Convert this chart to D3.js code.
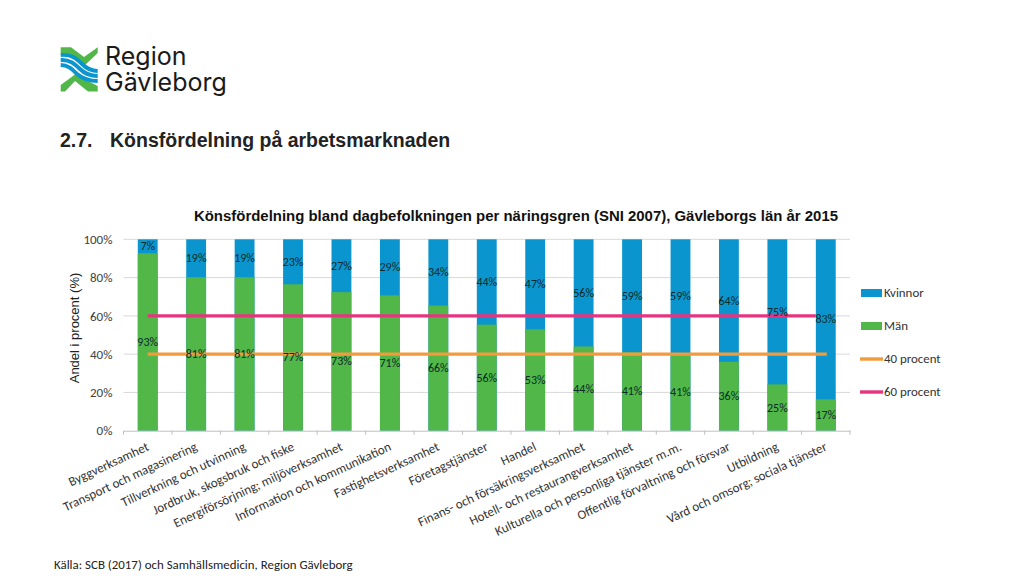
<!DOCTYPE html>
<html><head><meta charset="utf-8">
<script src="https://cdn.jsdelivr.net/npm/d3@7"></script>
<style>html,body{margin:0;background:#fff}svg{display:block}</style></head>
<body><svg id="c" width="1023" height="576"></svg>
<script>
const categories=["Byggverksamhet","Transport och magasinering","Tillverkning och utvinning","Jordbruk, skogsbruk och fiske","Energiförsörjning; miljöverksamhet","Information och kommunikation","Fastighetsverksamhet","Företagstjänster","Handel","Finans- och försäkringsverksamhet","Hotell- och restaurangverksamhet","Kulturella och personliga tjänster m.m.","Offentlig förvaltning och försvar","Utbildning","Vård och omsorg; sociala tjänster"];
const manBars=[92.7,80.2,80.2,76.5,72.4,70.7,65.4,55.4,53,44,41,40.5,36,24.2,16.4];
const manLabels=[93,81,81,77,73,71,66,56,53,44,41,41,36,25,17];
const kvinnorLabels=[7,19,19,23,27,29,34,44,47,56,59,59,64,75,83];
const yTicks=[0,20,40,60,80,100];
const line40=[40,40];
const line60=[60,60];
const legendItems=["Kvinnor","Män","40 procent","60 procent"];
const colors={k:"#0A95CE",m:"#50B748",o:"#F39A3C",p:"#E8337F"};
const svg=d3.select("#c");
const x=d3.scaleBand().domain(categories).range([123.5,850]).paddingInner(0.59).paddingOuter(0.295);
const y=d3.scaleLinear().domain([0,100]).range([430.7,239.3]);
const sans="Carlito,Lato,'Open Sans','Noto Sans',sans-serif", arial="'Liberation Sans',Arial,sans-serif";

// logo
const lg=svg.append("g");
const gr="#50B748",bl="#0A95CE";
["M60.7 47.3 L71 47.3 L84 57 L97.7 47.3 L97.7 53 L84 66 L72 58 L60.7 53 Z","M60.7 85 L75 74.5 L97.7 86 L97.7 91.5 L88 91.5 L75 81 L65 91.5 L60.7 91.5 Z"].forEach(d=>lg.append("path").attr("d",d).attr("fill",gr));
["M60.7 55 C72 54 77 59 82 64 C87 69 91 71 97.7 71","M60.7 60 C70 59.5 75 64 80 69 C85 74 91 76 97.7 76","M60.7 65 C68 65 72 69 77 74 C83 79 90 81 97.7 81"].forEach(d=>lg.append("path").attr("d",d).attr("fill","none").attr("stroke",bl).attr("stroke-width",3.9));
const logoText=svg.append("text").attr("font-family","Inter,Lato,sans-serif").attr("font-size",25).attr("fill","#1a1a1a");
logoText.append("tspan").attr("x",105).attr("y",65).text("Region");
logoText.append("tspan").attr("x",105).attr("y",91).text("Gävleborg");

svg.append("text").attr("x",60).attr("y",147).attr("font-family",arial).attr("font-weight",700).attr("font-size",19.5).attr("fill","#222").text("2.7.");
svg.append("text").attr("x",110).attr("y",147).attr("font-family",arial).attr("font-weight",700).attr("font-size",19.5).attr("fill","#222").text("Könsfördelning på arbetsmarknaden");
svg.append("text").attr("x",516).attr("y",221).attr("text-anchor","middle").attr("font-family",arial).attr("font-weight",700).attr("font-size",14.95).attr("fill","#111").text("Könsfördelning bland dagbefolkningen per näringsgren (SNI 2007), Gävleborgs län år 2015");

// grid
svg.append("g").selectAll("line").data(yTicks.filter(d=>d>0)).join("line").attr("x1",123.5).attr("x2",850).attr("y1",d=>y(d)).attr("y2",d=>y(d)).attr("stroke","#D9D9D9");

// bars
svg.append("g").selectAll("rect").data(categories).join("rect").attr("x",d=>x(d)).attr("width",x.bandwidth()).attr("y",y(100)).attr("height",y(0)-y(100)).attr("fill",colors.k);
svg.append("g").selectAll("rect").data(categories).join("rect").attr("x",d=>x(d)).attr("width",x.bandwidth()).attr("y",(d,i)=>y(manBars[i])).attr("height",(d,i)=>y(0)-y(manBars[i])).attr("fill",colors.m);

// axes
const ax=svg.append("g").attr("transform",`translate(0,${y(0)})`).call(d3.axisBottom(x).tickSize(0).tickFormat(""));
ax.select(".domain").attr("stroke","#BFBFBF");
const step=x.step();
ax.append("g").selectAll("line").data(d3.range(16)).join("line").attr("x1",i=>123.5+i*step).attr("x2",i=>123.5+i*step).attr("y1",0).attr("y2",4).attr("stroke","#BFBFBF");
const ay=svg.append("g").attr("transform","translate(123.5,0)").call(d3.axisLeft(y).tickValues(yTicks).tickSize(0).tickFormat(d=>d+"%"));
ay.select(".domain").remove();
ay.selectAll("text").attr("x",-11).attr("font-family",sans).attr("font-size",13).attr("fill","#404040");

// threshold lines: the 60 line stops at the last bar's left edge in the reference
const last=categories[14], first=categories[0];
const start=x(first)+x.bandwidth()/2;
const lineX40=d3.scalePoint().domain([0,1]).range([start,x(last)+x.bandwidth()/2+1]);
const lineX60=d3.scalePoint().domain([0,1]).range([start,x(last)]);
svg.append("path").attr("d",d3.line().x((d,i)=>lineX40(i)).y(d=>y(d))(line40)).attr("fill","none").attr("stroke",colors.o).attr("stroke-width",3.4);
svg.append("path").attr("d",d3.line().x((d,i)=>lineX60(i)).y(d=>y(d))(line60)).attr("fill","none").attr("stroke",colors.p).attr("stroke-width",3.4);

// data labels
const lab=svg.append("g").attr("font-family",sans).attr("font-size",12).attr("fill","#0d2b2b").attr("text-anchor","middle");
categories.forEach((c,i)=>{
 const cx=x(c)+x.bandwidth()/2;
 lab.append("text").attr("x",cx).attr("y",y(manBars[i]/2)+4).text(manLabels[i]+"%");
 lab.append("text").attr("x",cx).attr("y",y((manBars[i]+100)/2)+4).text(kvinnorLabels[i]+"%");
});

// cat labels
svg.append("g").selectAll("text").data(categories).join("text")
 .attr("transform",d=>`translate(${x(d)+x.bandwidth()/2+2},${y(0)+19}) rotate(-25)`)
 .attr("text-anchor","end").attr("font-family",sans).attr("font-size",13).attr("fill","#333").text(d=>d);

// y title
svg.append("text").attr("transform","translate(79,328) rotate(-90)").attr("text-anchor","middle").attr("font-family",arial).attr("font-size",13).attr("fill","#222").text("Andel i procent (%)");

// legend
const ly=[293,326,359,392];
const leg=svg.append("g");
leg.append("rect").attr("x",861).attr("y",ly[0]-4).attr("width",21).attr("height",8).attr("fill",colors.k);
leg.append("rect").attr("x",861).attr("y",ly[1]-4).attr("width",21).attr("height",8).attr("fill",colors.m);
leg.append("line").attr("x1",860).attr("x2",883).attr("y1",ly[2]).attr("y2",ly[2]).attr("stroke",colors.o).attr("stroke-width",3.4);
leg.append("line").attr("x1",860).attr("x2",883).attr("y1",ly[3]).attr("y2",ly[3]).attr("stroke",colors.p).attr("stroke-width",3.4);
leg.selectAll("text").data(legendItems).join("text").attr("x",884).attr("y",(d,i)=>ly[i]+4).attr("font-family",sans).attr("font-size",12.9).attr("fill","#333").text(d=>d);

svg.append("text").attr("x",54).attr("y",569).attr("font-family",sans).attr("font-size",12.9).attr("fill","#222").text("Källa: SCB (2017) och Samhällsmedicin, Region Gävleborg");
</script></body></html>
